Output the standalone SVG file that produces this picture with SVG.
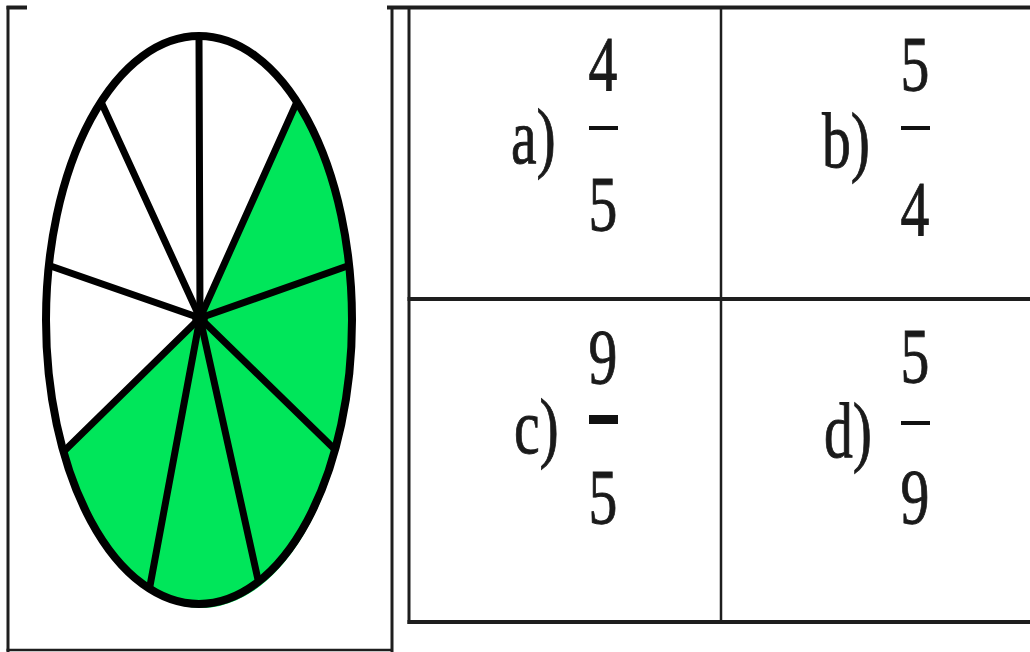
<svg xmlns="http://www.w3.org/2000/svg" width="1030" height="652" viewBox="0 0 1030 652">
<style>
.frame{stroke:#1e1e1e;fill:none;stroke-linecap:butt}
.spoke{stroke:#000;stroke-width:7;stroke-linecap:round}
.lbl{font-family:"Liberation Serif","DejaVu Serif",serif;font-size:78px;fill:#1a1a1a;stroke:#1a1a1a;stroke-width:0.9}
.num{font-family:"Liberation Serif","DejaVu Serif",serif;font-size:78px;fill:#1a1a1a;stroke:#1a1a1a;stroke-width:0.9;text-anchor:middle}
.bar{fill:#111}
</style>
<rect width="1030" height="652" fill="#fff"/>
<g id="frame">
<line class="frame" x1="8" y1="6" x2="8" y2="652" stroke-width="3"/>
<line class="frame" x1="6.5" y1="7.5" x2="27" y2="7.5" stroke-width="4"/>
<line class="frame" x1="6.5" y1="650" x2="392" y2="650" stroke-width="2.5"/>
<line class="frame" x1="392" y1="6" x2="392" y2="652" stroke-width="3"/>
</g>
<g id="pie">
<path d="M200,318 L296.7,102.4 A153,284 0 1 1 64.2,451.1 Z" fill="#00e65a"/>
<g>
<line class="spoke" x1="200" y1="318" x2="199" y2="36"/>
<line class="spoke" x1="200" y1="318" x2="296.7" y2="102.4"/>
<line class="spoke" x1="200" y1="318" x2="348.2" y2="265.8"/>
<line class="spoke" x1="200" y1="318" x2="334.4" y2="448.9"/>
<line class="spoke" x1="200" y1="318" x2="258.4" y2="581.4"/>
<line class="spoke" x1="200" y1="318" x2="149.5" y2="588.5"/>
<line class="spoke" x1="200" y1="318" x2="64.2" y2="451.1"/>
<line class="spoke" x1="200" y1="318" x2="49.8" y2="265.8"/>
<line class="spoke" x1="200" y1="318" x2="101.3" y2="102.4"/>
</g>
<circle cx="200" cy="318" r="8" fill="#000"/>
<ellipse cx="199" cy="320" rx="153" ry="284" fill="none" stroke="#000" stroke-width="8"/>
</g>
<g id="table">
<line class="frame" x1="387" y1="7.5" x2="1030" y2="7.5" stroke-width="4"/>
<line class="frame" x1="409" y1="6" x2="409" y2="624" stroke-width="3"/>
<line class="frame" x1="721" y1="8" x2="721" y2="623" stroke-width="2.5"/>
<line class="frame" x1="407.5" y1="299" x2="1030" y2="299" stroke-width="4"/>
<line class="frame" x1="407.5" y1="622" x2="1030" y2="622" stroke-width="4"/>
</g>
<g id="cell-a">
<text class="lbl" transform="translate(511,163) scale(0.74,1)">a)</text>
<text class="num" transform="translate(603,90) scale(0.74,1)">4</text>
<rect class="bar" x="589" y="126" width="29" height="4"/>
<text class="num" transform="translate(603,230) scale(0.74,1)">5</text>
</g>
<g id="cell-b">
<text class="lbl" transform="translate(822,167) scale(0.74,1)">b)</text>
<text class="num" transform="translate(915,90) scale(0.74,1)">5</text>
<rect class="bar" x="901" y="126" width="29" height="4"/>
<text class="num" transform="translate(915,235) scale(0.74,1)">4</text>
</g>
<g id="cell-c">
<text class="lbl" transform="translate(514,453) scale(0.74,1)">c)</text>
<text class="num" transform="translate(603,383) scale(0.74,1)">9</text>
<rect class="bar" x="589" y="415" width="29" height="9"/>
<text class="num" transform="translate(603,523) scale(0.74,1)">5</text>
</g>
<g id="cell-d">
<text class="lbl" transform="translate(824,457) scale(0.74,1)">d)</text>
<text class="num" transform="translate(915,382) scale(0.74,1)">5</text>
<rect class="bar" x="901" y="421" width="29" height="4"/>
<text class="num" transform="translate(915,523) scale(0.74,1)">9</text>
</g>
</svg>
